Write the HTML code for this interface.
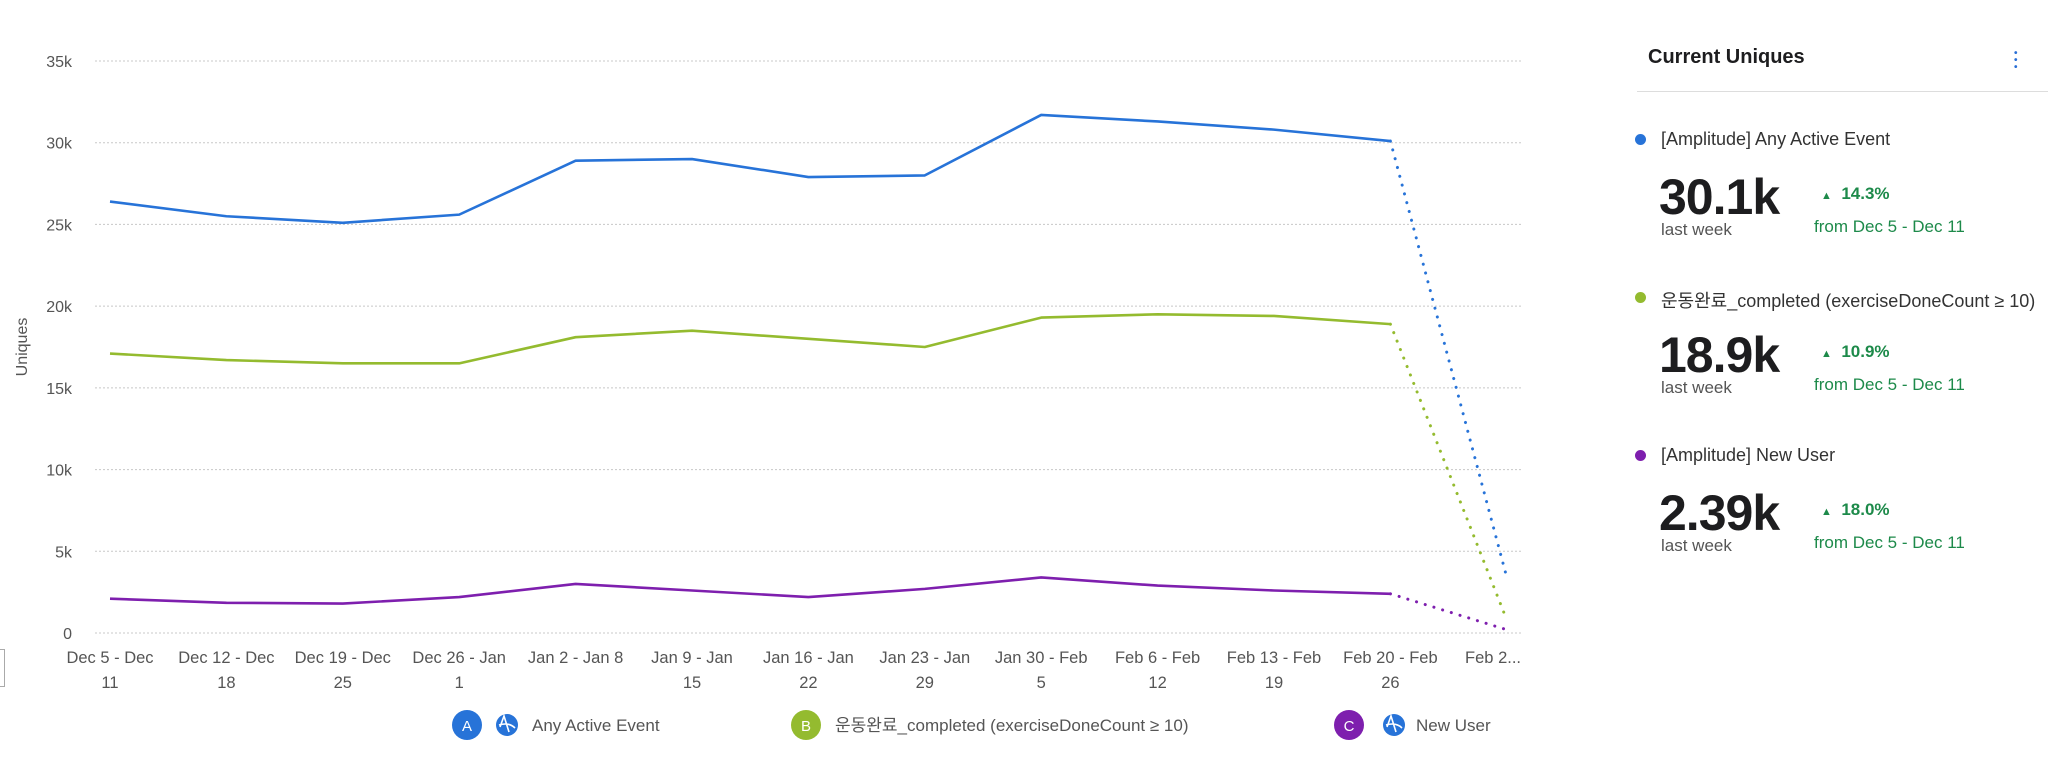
<!DOCTYPE html>
<html><head><meta charset="utf-8"><style>
body{margin:0;width:2048px;height:757px;background:#fff;overflow:hidden;font-family:"Liberation Sans","Noto Sans CJK KR",sans-serif;position:relative}
.abs{position:absolute;white-space:nowrap}
</style></head><body>
<svg id="chart" width="1560" height="757" style="position:absolute;left:0;top:0" font-family="Liberation Sans, Noto Sans CJK KR, sans-serif"></svg>
<div class="abs" style="left:-2px;top:649px;width:5px;height:36px;border:1px solid #aaa"></div>

<div>
<div class="abs" style="left:1648px;top:46px;font-size:20px;font-weight:bold;color:#1d1d1f">Current Uniques</div>
<div class="abs" style="left:2014px;top:50px;width:4px;color:#2a6fd6;font-size:10px;line-height:7px;font-weight:bold">•<br>•<br>•</div>
<div class="abs" style="left:1637px;top:91px;width:411px;height:1px;background:#ddd"></div>
<div id="cards"></div>
</div>

<script>
const categories=["Dec 5 - Dec|11","Dec 12 - Dec|18","Dec 19 - Dec|25","Dec 26 - Jan|1","Jan 2 - Jan 8|","Jan 9 - Jan|15","Jan 16 - Jan|22","Jan 23 - Jan|29","Jan 30 - Feb|5","Feb 6 - Feb|12","Feb 13 - Feb|19","Feb 20 - Feb|26","Feb 2...|"];
const blueValues=[26.4,25.5,25.1,25.6,28.9,29.0,27.9,28.0,31.7,31.3,30.8,30.1,3.4];
const greenValues=[17.1,16.7,16.5,16.5,18.1,18.5,18.0,17.5,19.3,19.5,19.4,18.9,0.8];
const purpleValues=[2.1,1.85,1.8,2.2,3.0,2.6,2.2,2.7,3.4,2.9,2.6,2.4,0.2];
const yTicks=[0,5,10,15,20,25,30,35];
const yTickLabels=["0","5k","10k","15k","20k","25k","30k","35k"];

const NS="http://www.w3.org/2000/svg";
const svg=document.getElementById('chart');
const y=v=>633-v*(572/35);
const x=i=>110+i*116.4;
function mk(t,a){const e=document.createElementNS(NS,t);for(const k in a)e.setAttribute(k,a[k]);svg.appendChild(e);return e;}
yTicks.forEach((v,i)=>{
 const g=mk('line',{x1:95,x2:1522,y1:y(v),y2:y(v),stroke:'#c8c8c8','stroke-dasharray':'2,2'});
 
 
 const t=mk('text',{x:72,y:y(v)+6,'text-anchor':'end','font-size':16,fill:'#555'});t.textContent=yTickLabels[i];
 
 
});
const at=mk('text',{x:0,y:0,transform:'translate(27,347) rotate(-90)','text-anchor':'middle','font-size':16,fill:'#555'});at.textContent='Uniques';


categories.forEach((c,i)=>{
 const [a,b]=c.split('|');
 const last=i===categories.length-1;
 const t=mk('text',{x:last?1521:x(i),y:663,'text-anchor':last?'end':'middle','font-size':16.5,fill:'#555'});t.textContent=a;
 
 
 if(b){const t2=mk('text',{x:x(i),y:688,'text-anchor':'middle','font-size':16.5,fill:'#555'});t2.textContent=b;
 
 }
});
function series(vals,color,name){
 const n=vals.length;
 const pts=vals.slice(0,n-1).map((v,i)=>x(i)+','+y(v)).join(' ');
 const l=mk('polyline',{points:pts,fill:'none',stroke:color,'stroke-width':2.6,'stroke-linejoin':'round'});
 
 
 const d=mk('line',{x1:x(n-2),y1:y(vals[n-2]),x2:x(n-1),y2:y(vals[n-1]),stroke:color,'stroke-width':3,'stroke-dasharray':'0.1,9','stroke-linecap':'round'});
 
 
}
series(blueValues,'#2773d8','any-active-event');
series(greenValues,'#94bb2f','exercise-completed');
series(purpleValues,'#7e1fae','new-user');

function legend(cx,letter,color,icon,tx,label,name){
 const c=mk('circle',{cx:cx,cy:725,r:15,fill:color});
 
 
 const lt=mk('text',{x:cx,y:731,'text-anchor':'middle','font-size':15,fill:'#fff'});lt.textContent=letter;
 if(icon){const ic=mk('circle',{cx:icon,cy:725,r:11,fill:'#2773d8'});
 
 
 const p=mk('path',{d:`M${icon-7} ${727} L${icon-3} ${716} L${icon+2} ${732} M${icon-8} 725 Q${icon+2} 722 ${icon+8} 728`,stroke:'#fff','stroke-width':1.6,fill:'none'});}
 const t=mk('text',{x:tx,y:731,'font-size':17,fill:'#555'});t.textContent=label;
 
 
}
legend(467,'A','#2773d8',507,532,'Any Active Event','any-active-event');
legend(806,'B','#94bb2f',null,835,'운동완료_completed (exerciseDoneCount ≥ 10)','exercise-completed');
legend(1349,'C','#7e1fae',1394,1416,'New User','new-user');

const cards=[["[Amplitude] Any Active Event","#2773d8","30.1k","14.3%"],["운동완료_completed (exerciseDoneCount ≥ 10)","#94bb2f","18.9k","10.9%"],["[Amplitude] New User","#7e1fae","2.39k","18.0%"]];
let h='';
cards.forEach((c,i)=>{const o=i*158;
h+=`<div class="abs" style="left:1635px;top:${134+o}px;width:11px;height:11px;border-radius:50%;background:${c[1]}"></div>
<div class="abs" style="left:1661px;top:${129+o}px;font-size:18px;color:#333">${c[0]}</div>
<div class="abs" style="left:1659px;top:${168+o}px;font-size:50px;font-weight:bold;color:#1d1d1f;letter-spacing:-1px">${c[2]}</div>
<div class="abs" style="left:1661px;top:${220+o}px;font-size:17px;color:#555">last week</div>
<div class="abs" style="left:1821px;top:${184+o}px;font-size:17px;font-weight:bold;color:#1d8a4a"><span style="font-size:11px">▲</span>&nbsp; ${c[3]}</div>
<div class="abs" style="left:1814px;top:${217+o}px;font-size:17px;color:#1d8a4a">from Dec 5 - Dec 11</div>`;});
document.getElementById('cards').innerHTML=h;
</script>
</body></html>
